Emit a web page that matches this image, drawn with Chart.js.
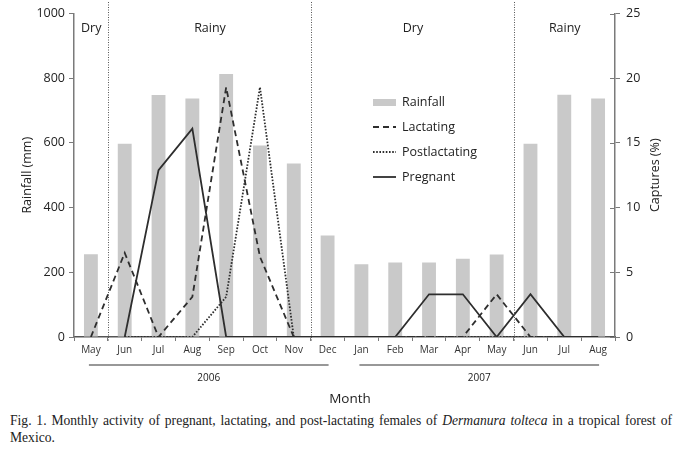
<!DOCTYPE html>
<html>
<head>
<meta charset="utf-8">
<script src="https://cdn.jsdelivr.net/npm/chart.js@4.4.1/dist/chart.umd.min.js"></script>
<style>
  body { margin: 0; background: #fff; width: 681px; height: 453px; overflow: hidden; position: relative; }
  #wrap { position: absolute; left: 0; top: 0; width: 681px; height: 410px; }
  #legenda {
    position: absolute; left: 10px; top: 412px; width: 662px;
    font-family: "Liberation Serif", serif; font-size: 13.6px; line-height: 17px; color: #222;
    text-align: justify; text-align-last: left;
  }
</style>
</head>
<body>
<div id="wrap"><canvas id="grafico" width="681" height="410"></canvas></div>
<div id="legenda">Fig. 1. Monthly activity of pregnant, lactating, and post-lactating females of <i>Dermanura tolteca</i> in a tropical forest of Mexico.</div>
<script>
var meses = ['May','Jun','Jul','Aug','Sep','Oct','Nov','Dec','Jan','Feb','Mar','Apr','May','Jun','Jul','Aug'];
var chuva = [256, 597, 748, 737, 813, 592, 536, 314, 225, 230, 230, 242, 255, 597, 749, 737];
var lactantes = [0, 6.5, 0, 3.1, 19.3, 6.2, 0, 0, 0, 0, 0, 0, 3.3, 0, 0, 0];
var posLactantes = [null, 0, 0, 0, 3.1, 19.3, 0, 0, 0, 0, 0, 0, 0, 0, 0, 0];
var gravidas = [null, 0, 12.9, 16.1, 0, 0, 0, 0, 0, 0, 3.3, 3.3, 0, 3.3, 0, 0];

var estacoes = ['Dry', 'Rainy', 'Dry', 'Rainy'];
var inicioEstacao = [0, 1, 7, 13];   // indice do mes onde cada estacao comeca
var anos = ['2006', '2007'];
var mesesAno = [[0, 7], [8, 15]];

var fonte = '"Open Sans", sans-serif';
var cinzaEixo = '#7a7a7a';
var corLinha = '#2e2e2e';

// desenha textos e marcas extras (estacoes, anos, legenda)
var extras = {
    id: 'extras',
    afterDraw: function(chart) {
        var ctx = chart.ctx;
        var x = chart.scales.x;
        var y2 = chart.scales.y2;
        var area = chart.chartArea;
        var meia = (x.getPixelForValue(1) - x.getPixelForValue(0)) / 2;
        ctx.save();

        // divisorias das estacoes
        ctx.strokeStyle = '#555';
        ctx.lineWidth = 1;
        ctx.setLineDash([1, 1.5]);
        var divs = [];
        for (var i = 1; i < inicioEstacao.length; i++) {
            var px = Math.round(x.getPixelForValue(inicioEstacao[i]) - meia) + 0.5;
            divs.push(px);
            ctx.beginPath();
            ctx.moveTo(px, 2);
            ctx.lineTo(px, area.bottom + 4);
            ctx.stroke();
        }
        ctx.setLineDash([]);

        // nomes das estacoes
        var bordas = [area.left].concat(divs).concat([area.right]);
        ctx.fillStyle = '#222';
        ctx.font = '12.5px ' + fonte;
        ctx.textAlign = 'center';
        ctx.textBaseline = 'middle';
        for (var i = 0; i < estacoes.length; i++) {
            ctx.fillText(estacoes[i], (bordas[i] + bordas[i + 1]) / 2, 28);
        }

        // anos
        ctx.strokeStyle = '#333';
        ctx.lineWidth = 1.2;
        ctx.font = '10px ' + fonte;
        for (var i = 0; i < anos.length; i++) {
            var a = x.getPixelForValue(mesesAno[i][0]) - 2;
            var b = x.getPixelForValue(mesesAno[i][1]) + 1;
            ctx.beginPath();
            ctx.moveTo(a, 365);
            ctx.lineTo(b, 365);
            ctx.stroke();
            ctx.fillText(anos[i], (a + b) / 2, 378);
        }

        // titulos
        ctx.font = '13.5px ' + fonte;
        ctx.fillText('Month', 350, 399);
        ctx.font = '12.5px ' + fonte;
        ctx.save();
        ctx.translate(27, (area.top + area.bottom) / 2);
        ctx.rotate(-Math.PI / 2);
        ctx.fillText('Rainfall (mm)', 0, 0);
        ctx.restore();
        ctx.save();
        ctx.translate(655, (area.top + area.bottom) / 2);
        ctx.rotate(-Math.PI / 2);
        ctx.fillText('Captures (%)', 0, 0);
        ctx.restore();

        // marcas internas do eixo direito
        ctx.strokeStyle = cinzaEixo;
        ctx.lineWidth = 1;
        y2.ticks.forEach(function(t) {
            var py = Math.round(y2.getPixelForValue(t.value)) + 0.5;
            ctx.beginPath();
            ctx.moveTo(area.right - 5, py);
            ctx.lineTo(area.right, py);
            ctx.stroke();
        });

        // legenda
        var lx = 373, ly = 102, passo = 25;
        ctx.textAlign = 'left';
        ctx.font = '12.5px ' + fonte;
        chart.data.datasets.forEach(function(ds, k) {
            var cy = ly + k * passo;
            if (ds.type === 'bar') {
                ctx.fillStyle = ds.backgroundColor;
                ctx.fillRect(lx, cy - 3, 23, 7);
            } else {
                ctx.strokeStyle = ds.borderColor;
                ctx.lineWidth = ds.borderWidth;
                ctx.setLineDash(ds.borderDash || []);
                ctx.beginPath();
                ctx.moveTo(lx, cy);
                ctx.lineTo(lx + 23, cy);
                ctx.stroke();
                ctx.setLineDash([]);
            }
            ctx.fillStyle = '#222';
            ctx.fillText(ds.label, lx + 29, cy);
        });
        ctx.restore();
    }
};

new Chart(document.getElementById('grafico'), {
    data: {
        labels: meses,
        datasets: [
            {
                type: 'bar',
                label: 'Rainfall',
                data: chuva,
                yAxisID: 'y',
                backgroundColor: '#c9c9c9',
                barPercentage: 0.82,
                categoryPercentage: 0.5,
                order: 4
            },
            {
                type: 'line',
                label: 'Lactating',
                data: lactantes,
                yAxisID: 'y2',
                borderColor: corLinha,
                borderWidth: 1.8,
                borderDash: [6, 4],
                pointRadius: 0,
                fill: false,
                tension: 0,
                order: 2
            },
            {
                type: 'line',
                label: 'Postlactating',
                data: posLactantes,
                yAxisID: 'y2',
                borderColor: corLinha,
                borderWidth: 1.8,
                borderDash: [1.6, 1.6],
                pointRadius: 0,
                fill: false,
                tension: 0,
                order: 3
            },
            {
                type: 'line',
                label: 'Pregnant',
                data: gravidas,
                yAxisID: 'y2',
                borderColor: corLinha,
                borderWidth: 1.8,
                pointRadius: 0,
                fill: false,
                tension: 0,
                order: 1
            }
        ]
    },
    plugins: [extras],
    options: {
        responsive: false,
        animation: false,
        layout: { padding: { top: 10, left: 0, right: 0, bottom: 0 } },
        plugins: {
            legend: { display: false },
            tooltip: { enabled: false }
        },
        scales: {
            x: {
                offset: true,
                afterFit: function(s) { s.height = 73; },
                grid: { offset: true, drawOnChartArea: false, tickLength: 4, color: cinzaEixo },
                border: { color: '#555', width: 1.5 },
                ticks: { color: '#333', font: { family: fonte, size: 10 }, padding: 3, maxRotation: 0, autoSkip: false }
            },
            y: {
                position: 'left',
                min: 0, max: 1000,
                afterFit: function(s) { s.width = 74; },
                grid: { drawOnChartArea: false, tickLength: 5, color: cinzaEixo },
                border: { color: cinzaEixo, width: 1.5 },
                ticks: {
                    stepSize: 200, color: '#222', font: { family: fonte, size: 12.5 }, padding: 4,
                    callback: function(v) { return String(v); }
                }
            },
            y2: {
                position: 'right',
                min: 0, max: 25,
                afterFit: function(s) { s.width = 66; },
                grid: { drawOnChartArea: false, tickLength: 5, color: cinzaEixo },
                border: { color: cinzaEixo, width: 1.5 },
                ticks: { stepSize: 5, color: '#222', font: { family: fonte, size: 12.5 }, padding: 6 }
            }
        }
    }
});
</script>
</body>
</html>
